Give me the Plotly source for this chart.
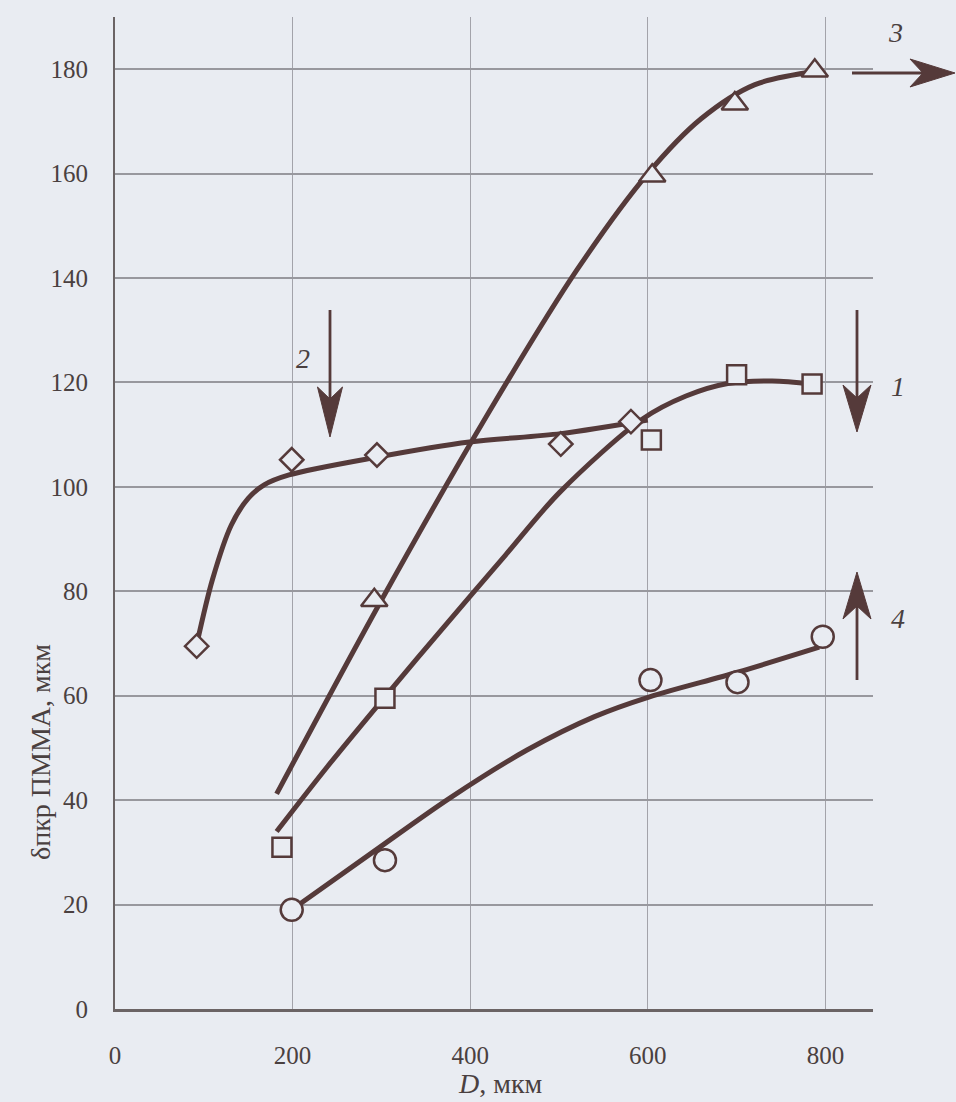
import plotly.graph_objects as go

# ---------------- data ----------------
x_ticks = [0, 200, 400, 600, 800]
y_ticks = [0, 20, 40, 60, 80, 100, 120, 140, 160, 180]

# curve 1 (squares)
c1_D = [188, 304, 604, 700, 785]
c1_v = [31.0, 59.5, 109.0, 121.5, 119.7]
c1_line_D = [182, 240, 304, 377, 440, 501, 594, 643, 690, 740, 785]
c1_line_v = [34.0, 46.6, 59.8, 74.5, 87.0, 99.0, 113.0, 117.4, 119.8, 120.3, 119.7]

# curve 2 (diamonds)
c2_D = [92, 199, 295, 502, 581]
c2_v = [69.5, 105.2, 106.1, 108.2, 112.5]
c2_line_D = [92, 110, 131, 150, 168, 196, 295, 399, 502, 600]
c2_line_v = [69.8, 82.4, 92.7, 97.8, 100.4, 102.3, 105.7, 108.6, 110.2, 112.8]

# curve 3 (triangles)
c3_D = [292, 605, 698, 788]
c3_v = [78.3, 159.6, 173.4, 179.7]
c3_line_D = [182, 300, 420, 520, 600, 660, 720, 790]
c3_line_v = [41.2, 78.3, 114.0, 141.5, 160.0, 170.5, 177.0, 179.6]

# curve 4 (circles)
c4_D = [199, 304, 603, 701, 797]
c4_v = [19.0, 28.5, 63.0, 62.6, 71.3]
c4_line_D = [199, 290, 377, 464, 540, 602, 701, 793]
c4_line_v = [19.0, 30.0, 40.4, 49.6, 56.0, 59.8, 64.5, 69.3]

curve_labels = ["1", "2", "3", "4"]
x_title = "<i>D</i>, мкм"
y_title = "δпкр ПММА, мкм"

# ---------------- styling ----------------
BG = "#e9ecf2"
INK = "#553a3a"
TXT = "#4a4040"
FONT = "Liberation Serif"

W, H = 956, 1102
PX0, PX1 = 115, 873      # plot area left/right in px
PY0, PY1 = 17, 1009      # plot area top/bottom in px

def px(x):
    return (x - PX0) / (PX1 - PX0)

def py(y):
    return (PY1 - y) / (PY1 - PY0)

fig = go.Figure()

LW = 5
for lx, ly in [(c1_line_D, c1_line_v), (c2_line_D, c2_line_v),
               (c3_line_D, c3_line_v), (c4_line_D, c4_line_v)]:
    fig.add_trace(go.Scatter(x=lx, y=ly, mode="lines",
                             line=dict(color=INK, width=LW, shape="spline", smoothing=0.9),
                             hoverinfo="skip", showlegend=False))

MLW = 2.5
for mx, my, sym, sz in [(c1_D, c1_v, "square", 19),
                        (c2_D, c2_v, "diamond", 18),
                        (c3_D, c3_v, "triangle-up", 23),
                        (c4_D, c4_v, "circle", 22)]:
    fig.add_trace(go.Scatter(x=mx, y=my, mode="markers",
                             marker=dict(symbol=sym, size=sz, color=BG,
                                         line=dict(color=INK, width=MLW)),
                             hoverinfo="skip", showlegend=False))

# ---------------- arrows (shaft + head) ----------------
shapes = []

def vline(x, y0, y1):
    shapes.append(dict(type="line", xref="paper", yref="paper",
                       x0=px(x), x1=px(x), y0=py(y0), y1=py(y1),
                       line=dict(color=INK, width=2.8)))

def hline(y, x0, x1):
    shapes.append(dict(type="line", xref="paper", yref="paper",
                       x0=px(x0), x1=px(x1), y0=py(y), y1=py(y),
                       line=dict(color=INK, width=2.8)))

def head(pts):
    path = "M " + " L ".join(f"{px(a):.5f},{py(b):.5f}" for a, b in pts) + " Z"
    shapes.append(dict(type="path", xref="paper", yref="paper", path=path,
                       fillcolor=INK, line=dict(color=INK, width=1)))

# arrow 2 (down)
vline(330, 310, 398)
head([(330, 437), (317.5, 387), (330, 399), (342.5, 387)])
# arrow 1 (down)
vline(857, 310, 398)
head([(857, 432), (843, 385), (857, 398), (871, 385)])
# arrow 4 (up)
vline(857, 680, 606)
head([(857, 572), (843, 619), (857, 606), (871, 619)])
# arrow 3 (right)
hline(73, 852, 924)
head([(955, 73), (910, 59), (923, 73), (910, 87)])

annotations = []
for lab, (lx, ly) in zip(curve_labels, [(898, 387), (303, 358), (895, 33), (898, 618)]):
    annotations.append(dict(text=f"<i>{lab}</i>", xref="paper", yref="paper",
                            x=px(lx), y=py(ly), xanchor="center", yanchor="middle",
                            showarrow=False, font=dict(family=FONT, size=28, color=TXT)))

annotations.append(dict(text=x_title, xref="paper", yref="paper",
                        x=px(500), y=py(1083), xanchor="center", yanchor="middle",
                        showarrow=False, font=dict(family=FONT, size=28, color=TXT)))
annotations.append(dict(text=y_title, xref="paper", yref="paper", textangle=-90,
                        x=px(40), y=py(752), xanchor="center", yanchor="middle",
                        showarrow=False, font=dict(family=FONT, size=28, color=TXT)))

fig.update_layout(
    width=W, height=H,
    margin=dict(l=PX0, r=W - PX1, t=PY0, b=H - PY1, pad=0),
    paper_bgcolor=BG, plot_bgcolor=BG,
    shapes=shapes, annotations=annotations,
    xaxis=dict(range=[0, 853.6], tickvals=x_ticks, showgrid=True,
               gridcolor="#a3a3aa", gridwidth=1.2, zeroline=False,
               showline=True, linecolor="#6b6465", linewidth=2.5,
               ticks="", ticklabelstandoff=22,
               tickfont=dict(family=FONT, size=25, color=TXT), fixedrange=True),
    yaxis=dict(range=[0, 190], tickvals=y_ticks, showgrid=True,
               gridcolor="#98989e", gridwidth=1.5, zeroline=False,
               showline=True, linecolor="#6b6465", linewidth=2,
               ticks="", ticklabelstandoff=20,
               tickfont=dict(family=FONT, size=25, color=TXT), fixedrange=True),
)

fig.write_html("out.html", config={"displayModeBar": False},
               post_script="document.body.style.margin='0';document.body.style.overflow='hidden';")
